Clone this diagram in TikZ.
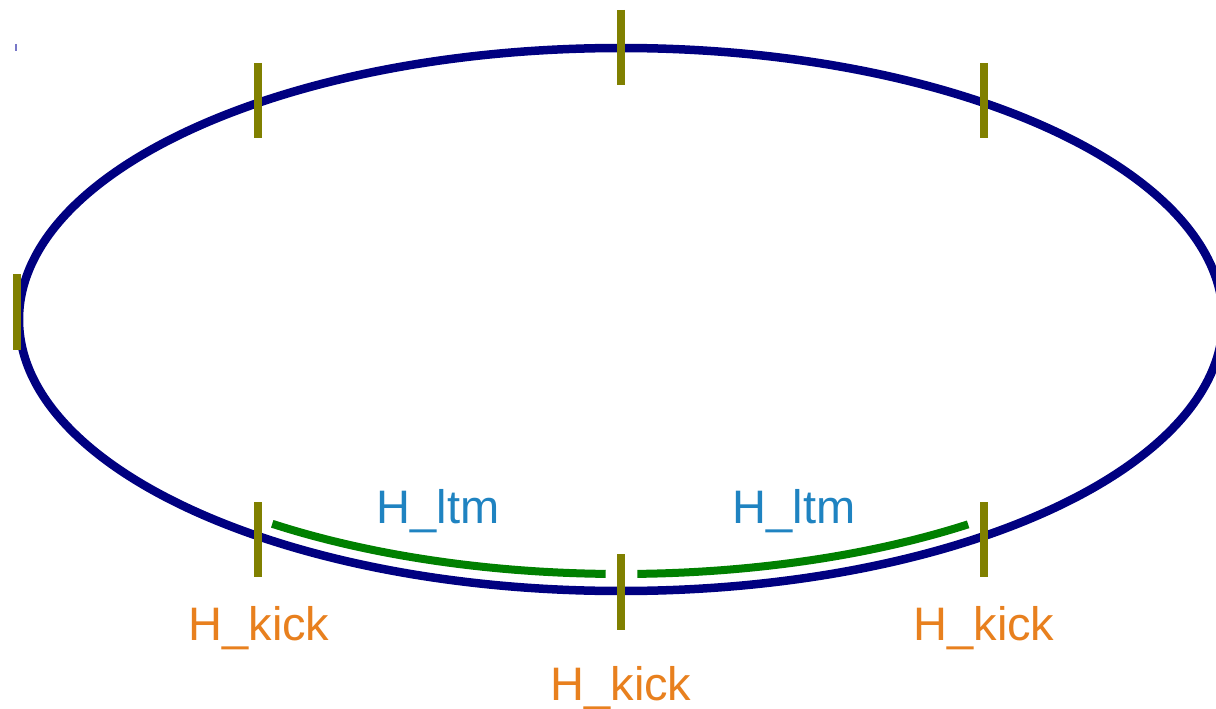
\documentclass[tikz,border=0pt]{standalone}
\usepackage{fontspec}
\setmainfont{Liberation Sans}
\usetikzlibrary{calc}
\definecolor{ringblue}{RGB}{0,0,128}
\definecolor{tickolive}{RGB}{128,128,0}
\definecolor{arcgreen}{RGB}{0,128,0}
\definecolor{ltmblue}{RGB}{31,131,193}
\definecolor{kickorange}{RGB}{232,128,30}
\begin{document}
\begin{tikzpicture}[x=1pt,y=-1pt,
  ring/.style={draw=ringblue,line width=8.5pt},
  tickmark/.style={draw=tickolive,line width=8pt},
  ltmarc/.style={draw=arcgreen,line width=8pt},
  ltmlabel/.style={text=ltmblue,font=\fontsize{47}{56}\selectfont,anchor=base,inner sep=0pt},
  kicklabel/.style={text=kickorange,font=\fontsize{47}{56}\selectfont,anchor=base,inner sep=0pt}]
\useasboundingbox (0,0) rectangle (1216,709);
\coordinate (c) at (621,319.5);
% ring
\draw[ring] (c) ellipse[x radius=602, y radius=271.5];
% small mark top-left
\draw[draw={rgb,255:red,120;green,120;blue,200},line width=2pt] (16,44) -- (16,51);
% ticks
\draw[tickmark] (16.7,274) -- (16.7,350);
\draw[tickmark] (258,63) -- (258,138);
\draw[tickmark] (621,10) -- (621,85);
\draw[tickmark] (984,63) -- (984,138);
\draw[tickmark] (258,502) -- (258,577);
\draw[tickmark] (621,554) -- (621,630);
\draw[tickmark] (984,502) -- (984,577);
% green arcs
\draw[ltmarc] ($(c)+({585*cos(126.6)},{254.5*sin(126.6)})$) arc[start angle=126.6, end angle=91.5, x radius=585, y radius=254.5];
\draw[ltmarc] ($(c)+({585*cos(88.4)},{254.5*sin(88.4)})$) arc[start angle=88.4, end angle=53.6, x radius=585, y radius=254.5];
% labels
\node[ltmlabel] (ltm1) at (438,523.5) {H\_ltm};
\node[ltmlabel] (ltm2) at (794,523.5) {H\_ltm};
\node[kicklabel] (kick1) at (259,640.5) {H\_kick};
\node[kicklabel] (kick2) at (984,640.5) {H\_kick};
\node[kicklabel] (kick3) at (621,700) {H\_kick};
\end{tikzpicture}
\end{document}
